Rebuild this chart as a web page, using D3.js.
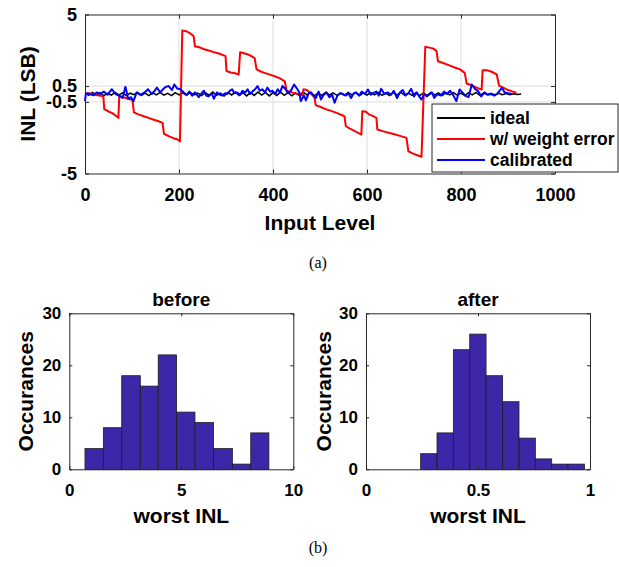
<!DOCTYPE html>
<html>
<head>
<meta charset="utf-8">
<script src="https://cdn.jsdelivr.net/npm/d3@7"></script>
<style>
  body { margin: 0; background: #fff; }
  svg { display: block; font-family: "Liberation Sans", Arial, sans-serif; }
</style>
</head>
<body>
<svg id="chart" width="619" height="567"></svg>
<script>
// ---- data ----

// (a) INL vs input level
const inlXTicks = [0, 200, 400, 600, 800, 1000];
const inlYTicks = [-5, -0.5, 0.5, 5];
const inlYTickLabels = ["-5", "-0.5", "0.5", "5"];

// ideal INL, one sample every idealStep input levels starting at 0
const idealStep = 8;
const idealY = [
  0.05, -0.08, 0.1, -0.05, 0.08, -0.1, 0.04, -0.07, 0.1, -0.06,
  0.07, -0.1, 0.05, -0.04, 0.1, -0.08, 0.06, -0.1, 0.08, -0.05,
  0.1, -0.07, 0.04, -0.1, 0.09, -0.06, 0.07, -0.09, 0.1, -0.05,
  0.06, -0.1, 0.08, -0.07, 0.12, -0.08, 0.05, -0.12, 0.1, -0.06,
  0.12, -0.1, 0.08, -0.12, 0.1, -0.09, 0.12, -0.07, 0.1, -0.12,
  0.09, -0.1, 0.12, -0.08, 0.1, -0.11, 0.07, -0.1, 0.12, -0.06,
  0.08, -0.1, 0.06, -0.08, 0.1, -0.05, 0.07, -0.09, 0.05, -0.08,
  0.1, -0.06, 0.08, -0.1, 0.06, -0.07, 0.09, -0.05, 0.1, -0.08,
  0.06, -0.1, 0.08, -0.06, 0.1, -0.07, 0.05, -0.09, 0.08, -0.1,
  0.06, -0.08, 0.1, -0.05, 0.07, -0.1, 0.08, -0.06, 0.09, -0.07,
  0.05, -0.1, 0.08, -0.06, 0.1, -0.08, 0.06, -0.05, 0.04, -0.06,
  0.05, -0.04, 0.03, -0.05, 0.02, -0.03, 0.0
];

// INL with weight error: [input level, INL]
const weightErrorPts = [
  [0, 0.0], [10, 0.05], [20, -0.05], [30, -0.1], [39, -0.15],
  [41, -0.95], [50, -1.1], [58, -1.2], [65, -1.35], [71, -1.5],
  [73, -0.1], [82, -0.2], [92, -0.3], [101, -0.38],
  [104, -1.15], [115, -1.3], [125, -1.4], [135, -1.5], [145, -1.6], [155, -1.7], [165, -1.82],
  [168, -2.5], [178, -2.65], [188, -2.78], [196, -2.85], [202, -2.98],
  [207, 4.0], [215, 3.95], [222, 3.85], [231, 3.65],
  [234, 3.0], [245, 2.92], [255, 2.8], [265, 2.72], [275, 2.62], [285, 2.55], [299, 2.38],
  [301, 1.45], [310, 1.35], [320, 1.3], [327, 1.22],
  [330, 2.62], [340, 2.55], [350, 2.45], [361, 2.25],
  [365, 1.55], [375, 1.4], [385, 1.3], [395, 1.2], [405, 1.1], [415, 0.98], [425, 0.8],
  [429, 0.2], [440, 0.1], [452, 0.0], [463, -0.1],
  [465, 0.3], [472, 0.25], [480, 0.05], [488, -0.2],
  [491, -0.7], [500, -0.8], [512, -0.95], [525, -1.08], [538, -1.22], [552, -1.4],
  [555, -2.02], [565, -2.2], [575, -2.35], [588, -2.55],
  [590, -1.08], [598, -1.12], [605, -1.3], [612, -1.38], [620, -1.5],
  [622, -2.23], [635, -2.35], [648, -2.45], [660, -2.55], [672, -2.65], [684, -2.76],
  [688, -3.6], [698, -3.75], [707, -3.85], [716, -3.95],
  [724, 2.97], [735, 2.9], [742, 2.85], [748, 2.69],
  [751, 2.06], [762, 1.95], [775, 1.8], [788, 1.65], [798, 1.55], [808, 1.33],
  [812, 0.66], [822, 0.55], [833, 0.4], [844, 0.28],
  [846, 1.5], [855, 1.5], [865, 1.4], [876, 1.23],
  [881, 0.53], [890, 0.4], [900, 0.25], [910, 0.15], [918, 0.08]
];

// calibrated INL: [input level, INL]
const calibratedPts = [
  [0, -0.45], [2, 0.05], [10, 0.0], [18, -0.08], [25, 0.1], [32, 0.0], [40, 0.15], [48, -0.05],
  [57, 0.3], [65, 0.0], [72, -0.1], [80, -0.25], [86, 0.45], [92, -0.3], [98, -0.2], [103, -0.45],
  [110, 0.1], [118, -0.05], [127, 0.1], [134, 0.3], [142, 0.0], [148, 0.2], [153, 0.4], [160, 0.1],
  [166, 0.3], [172, 0.45], [178, 0.5], [185, 0.25], [190, 0.6], [196, 0.35], [203, 0.3], [210, 0.1],
  [216, -0.05], [222, 0.15], [228, -0.1], [234, 0.1], [242, -0.2], [248, 0.05], [253, 0.2], [258, -0.1],
  [263, -0.15], [270, 0.05], [274, -0.3], [281, 0.1], [287, -0.05], [292, -0.1], [298, 0.05], [303, 0.0],
  [308, 0.2], [313, 0.3], [318, 0.05], [324, 0.1], [330, -0.05], [335, 0.2], [341, 0.1], [346, 0.3],
  [351, 0.0], [356, 0.15], [362, 0.3], [367, 0.5], [372, 0.2], [377, 0.3], [383, 0.1], [388, 0.4],
  [394, 0.15], [399, 0.2], [405, 0.0], [410, 0.3], [415, 0.1], [420, 0.5], [427, 0.3], [432, 0.05],
  [438, 0.2], [445, 0.6], [452, 0.3], [456, 0.1], [459, -0.45], [466, -0.1], [470, -0.4], [476, 0.05],
  [481, 0.1], [486, -0.1], [491, -0.25], [497, 0.15], [502, -0.35], [508, -0.05], [514, 0.1], [520, -0.2],
  [526, -0.05], [531, -0.55], [537, -0.1], [543, 0.05], [549, 0.0], [555, -0.1], [560, 0.05], [566, -0.25],
  [572, 0.05], [577, 0.1], [583, -0.1], [589, 0.15], [596, 0.0], [602, 0.28], [608, -0.05], [613, 0.05],
  [620, 0.15], [625, -0.1], [630, 0.33], [637, 0.0], [644, 0.1], [651, -0.05], [657, 0.2], [664, -0.25],
  [670, 0.1], [676, 0.25], [682, -0.1], [688, 0.05], [694, 0.33], [700, -0.15], [706, 0.1], [712, -0.2],
  [716, -0.35], [722, 0.0], [727, -0.15], [732, -0.05], [738, 0.1], [743, -0.25], [750, 0.0], [757, -0.1],
  [764, 0.15], [770, 0.0], [777, 0.2], [784, -0.1], [790, -0.45], [797, 0.28], [803, 0.1], [809, -0.1],
  [816, -0.2], [823, 0.6], [830, 0.3], [836, 0.2], [843, -0.15], [850, 0.1], [857, -0.05], [864, 0.0],
  [871, -0.1], [878, 0.05], [887, 0.39], [893, 0.1], [900, 0.05], [908, 0.0]
];

const legendLabels = ["ideal", "w/ weight error", "calibrated"];
const legendColors = ["#000000", "#ff0000", "#0000ff"];

// (b) histograms of worst INL
const beforeEdges = [0.70, 1.52, 2.34, 3.17, 3.97, 4.79, 5.61, 6.44, 7.28, 8.10, 8.91];
const beforeCounts = [4, 8, 18, 16, 22, 11, 9, 4, 1, 7];
const beforeXTicks = [0, 5, 10];

const afterEdges = [0.244, 0.317, 0.390, 0.463, 0.536, 0.610, 0.683, 0.756, 0.829, 0.902, 0.975];
const afterCounts = [3, 7, 23, 26, 18, 13, 6, 2, 1, 1];
const afterXTicks = [0, 0.5, 1];

const histYTicks = [0, 10, 20, 30];

// ---- drawing ----
const svg = d3.select("#chart");
const axisColor = "#262626";

// box with inward ticks on all four sides, labels on bottom and left
function drawBox(x, y, opt) {
  const [yBottom, yTop] = y.range();
  const [xLeft, xRight] = x.range();
  const styleText = (sel) =>
    sel.selectAll("text")
      .style("font-family", '"Liberation Sans", Arial, sans-serif')
      .style("font-weight", "bold")
      .style("font-size", opt.fontSize + "px")
      .style("fill", "#000");

  svg.append("g").attr("color", axisColor)
    .attr("transform", `translate(0,${yBottom})`)
    .call(d3.axisBottom(x).tickValues(opt.xTicks).tickFormat(opt.xFormat)
      .tickSizeInner(-opt.tickLen).tickSizeOuter(0).tickPadding(opt.xPad))
    .call(styleText);

  svg.append("g").attr("color", axisColor)
    .attr("transform", `translate(0,${yTop})`)
    .call(d3.axisTop(x).tickValues(opt.xTicks).tickFormat("")
      .tickSizeInner(-opt.tickLen).tickSizeOuter(0));

  svg.append("g").attr("color", axisColor)
    .attr("transform", `translate(${xLeft},0)`)
    .call(d3.axisLeft(y).tickValues(opt.yTicks).tickFormat(opt.yFormat)
      .tickSizeInner(-opt.tickLen).tickSizeOuter(0).tickPadding(opt.yPad))
    .call(styleText);

  svg.append("g").attr("color", axisColor)
    .attr("transform", `translate(${xRight},0)`)
    .call(d3.axisRight(y).tickValues(opt.yTicks).tickFormat("")
      .tickSizeInner(-opt.tickLen).tickSizeOuter(0));
}

function label(text, x, y, size, rotate) {
  svg.append("text")
    .attr("transform", `translate(${x},${y})` + (rotate ? " rotate(-90)" : ""))
    .attr("text-anchor", "middle")
    .style("font-weight", "bold")
    .style("font-size", size + "px")
    .style("fill", "#000")
    .text(text);
}

function caption(text, x, y) {
  svg.append("text")
    .attr("x", x).attr("y", y)
    .attr("text-anchor", "middle")
    .style("font-family", '"Liberation Serif", "Times New Roman", serif')
    .style("font-size", "16px")
    .style("fill", "#000")
    .text(text);
}

// ---- (a) ----
const xInl = d3.scaleLinear().domain([0, 1000]).range([85, 555]);
const yInl = d3.scaleLinear().domain([-5, 5]).range([173.5, 14.5]);

// grid lines
svg.append("g").selectAll("line.vgrid")
  .data(inlXTicks.slice(1, -1))
  .join("line")
  .attr("x1", (d) => xInl(d)).attr("x2", (d) => xInl(d))
  .attr("y1", yInl(-5)).attr("y2", yInl(5))
  .attr("stroke", "#dedede").attr("stroke-width", 1);
svg.append("g").selectAll("line.hgrid")
  .data(inlYTicks.slice(1, -1))
  .join("line")
  .attr("x1", xInl(0)).attr("x2", xInl(1000))
  .attr("y1", (d) => yInl(d)).attr("y2", (d) => yInl(d))
  .attr("stroke", "#dedede").attr("stroke-width", 1);

const line = d3.line().x((d) => xInl(d[0])).y((d) => yInl(d[1]));
const idealPts = idealY.map((v, i) => [i * idealStep, v]);

svg.append("path").datum(idealPts).attr("d", line)
  .attr("fill", "none").attr("stroke", legendColors[0]).attr("stroke-width", 1.5);
svg.append("path").datum(weightErrorPts).attr("d", line)
  .attr("fill", "none").attr("stroke", legendColors[1]).attr("stroke-width", 2)
  .attr("stroke-linejoin", "round");
svg.append("path").datum(calibratedPts).attr("d", line)
  .attr("fill", "none").attr("stroke", legendColors[2]).attr("stroke-width", 2)
  .attr("stroke-linejoin", "round");

drawBox(xInl, yInl, {
  xTicks: inlXTicks, yTicks: inlYTicks,
  xFormat: (d) => String(d),
  yFormat: (d, i) => inlYTickLabels[i],
  tickLen: 4, fontSize: 18, xPad: 15, yPad: 8
});

// legend
const legend = svg.append("g").attr("transform", "translate(432,104)");
legend.append("rect")
  .attr("width", 186).attr("height", 68)
  .attr("fill", "#fff").attr("stroke", axisColor).attr("stroke-width", 1);
const rows = legend.selectAll("g.row")
  .data(legendLabels)
  .join("g")
  .attr("transform", (d, i) => `translate(0,${14 + i * 21})`);
rows.append("line")
  .attr("x1", 5).attr("x2", 53)
  .attr("stroke", (d, i) => legendColors[i]).attr("stroke-width", 2);
rows.append("text")
  .attr("x", 58).attr("dy", "0.36em")
  .style("font-weight", "bold").style("font-size", "17.5px").style("fill", "#000")
  .text((d) => d);

label("Input Level", 320, 229.5, 21, false);
label("INL (LSB)", 34.5, 94, 21, true);
caption("(a)", 318, 268);

// ---- (b) ----
const yHist = d3.scaleLinear().domain([0, 30]).range([469.3, 313.3]);

function histogram(edges, counts, x, xTicks, title, yLabelX) {
  svg.append("g").selectAll("rect")
    .data(counts)
    .join("rect")
    .attr("x", (d, i) => x(edges[i]))
    .attr("width", (d, i) => x(edges[i + 1]) - x(edges[i]))
    .attr("y", (d) => yHist(d))
    .attr("height", (d) => yHist(0) - yHist(d))
    .attr("fill", "#3e26a8")
    .attr("stroke", "#1e1e1e").attr("stroke-width", 0.8);

  drawBox(x, yHist, {
    xTicks: xTicks, yTicks: histYTicks,
    xFormat: (d) => String(d), yFormat: (d) => String(d),
    tickLen: 3, fontSize: 17, xPad: 15, yPad: 8
  });

  const [x0, x1] = x.range();
  label(title, (x0 + x1) / 2, 306, 19, false);
  label("worst INL", (x0 + x1) / 2, 522.5, 21, false);
  label("Occurances", yLabelX, 391.3, 21, true);
}

const xBefore = d3.scaleLinear().domain([0, 10]).range([69.3, 293.3]);
const xAfter = d3.scaleLinear().domain([0, 1]).range([366, 590]);

histogram(beforeEdges, beforeCounts, xBefore, beforeXTicks, "before", 32.7);
histogram(afterEdges, afterCounts, xAfter, afterXTicks, "after", 331);

caption("(b)", 318, 553);
</script>
</body>
</html>
